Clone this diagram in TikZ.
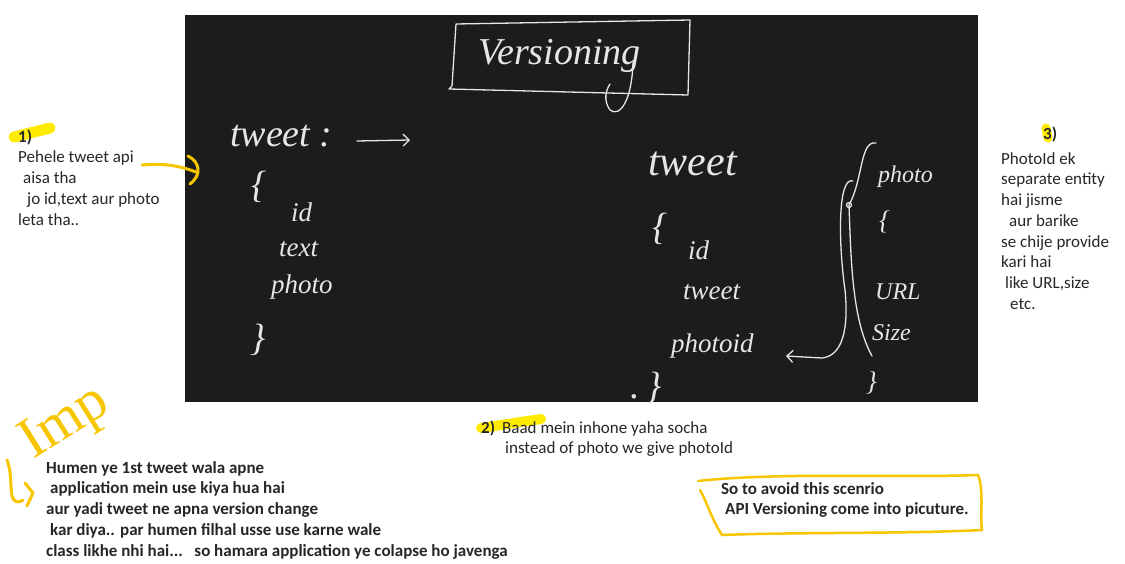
\documentclass[tikz,border=0pt]{standalone}
\usepackage{fontspec}
\setmainfont{Carlito}
\newfontfamily\chalkfont{Liberation Serif}
\usetikzlibrary{arrows.meta, positioning}

\definecolor{board}{HTML}{1C1C1C}
\definecolor{chalkwhite}{HTML}{E6E6E6}
\definecolor{marker}{HTML}{F7C600}
\definecolor{hilite}{HTML}{FFEB00}

\tikzset{
  note/.style={font=\fontsize{17}{20.8}\selectfont, align=left, anchor=base west, inner sep=0pt, text=black!85},
  boldnote/.style={note, font=\fontsize{17}{20.8}\selectfont\bfseries},
  chalk/.style={draw=chalkwhite, line width=1.3pt, line cap=round, line join=round},
  chalktext/.style={text=chalkwhite, anchor=base west, inner sep=0pt, font=\chalkfont\itshape\fontsize{38}{40}\selectfont},
  smallchalk/.style={chalktext, font=\chalkfont\itshape\fontsize{27}{30}\selectfont},
  tinychalk/.style={chalktext, font=\chalkfont\itshape\fontsize{24}{26}\selectfont},
  pen/.style={draw=marker, line width=3pt, line cap=round, line join=round},
  highlight/.style={draw=hilite, line width=11pt, line cap=round}
}

\begin{document}
\begin{tikzpicture}[x=1pt, y=-1pt, >={Straight Barb[length=6pt, width=12pt]}]
    \useasboundingbox (0,0) rectangle (1125,564);
    \fill[white] (0,0) rectangle (1125,564);

    % Board
    \fill[board] (185,15) rectangle (978,402);
    \begin{scope}
    \clip (185,15) rectangle (978,402);

    % Title
    \draw[chalk] (456,24) -- (690,20) -- (688,95) -- (449,89) -- (452,86) -- cycle;
    \node[chalktext] (title) at (478,65) {Versioning};
    \draw[chalk] (633,62) .. controls (632,100) and (620,118) .. (610,110) .. controls (603,100) and (606,90) .. (610,84);

    % Old tweet
    \node[chalktext] (oldtweet) at (230,147) {tweet :};
    \coordinate (oldtail) at (357,141);
    \coordinate (oldtip) at (410,140);
    \draw[chalk, ->] (oldtail) -- (oldtip);
    \node[chalktext] (oldopen) at (251,198) {\{};
    \node[smallchalk] (oldid) at (291,222) {id};
    \node[smallchalk] (oldtext) at (279,257) {text};
    \node[smallchalk] (oldphoto) at (271,294) {photo};
    \node[chalktext] (oldclose) at (250,350) {\}};

    % New tweet
    \node[chalktext, font=\chalkfont\itshape\fontsize{42}{44}\selectfont] (newtweet) at (648,176) {tweet};
    \node[chalktext] (newopen) at (652,240) {\{};
    \node[smallchalk] (newid) at (688,260) {id};
    \node[smallchalk] (newtext) at (683,300) {tweet};
    \node[smallchalk] (photoid) at (671,352) {photoid};
    \node[chalktext] (newclose) at (630,398) {.\,\}};

    % Photo entity
    \node[tinychalk] (photo) at (878,183) {photo};
    \node[smallchalk] (photoopen) at (879,230) {\{};
    \node[tinychalk] (url) at (875,300) {URL};
    \node[tinychalk] (size) at (872,340) {Size};
    \node[smallchalk] (photoclose) at (866,390) {\}};
    \coordinate (loop) at (849,205);
    \coordinate (pidtip) at (786,356);
    \draw[chalk] (876,143) .. controls (860,140) and (863,180) .. (loop);
    \draw[chalk] (loop) circle (2.5);
    \draw[chalk, ->] (853,181) .. controls (838,176) and (838,240) .. (845,290) .. controls (849,330) and (842,356) .. (822,358) -- (pidtip);
    \draw[chalk] (loop) .. controls (851,260) and (852,320) .. (872,356);
    \end{scope}

    % Note 1
    \draw[highlight] (14,137) -- (50,128);
    \node[boldnote] (one) at (18,143) {1)};
    \node[note] (pehele) at (18,225.4) {Pehele tweet api\\ \hspace*{5pt}aisa tha\\ \hspace*{9pt}jo id,text aur photo\\leta tha..};
    \draw[pen] (142,165) .. controls (165,163) and (180,166) .. (196,172);
    \draw[pen] (188,156) .. controls (200,162) and (202,175) .. (190,184);

    % Note 2
    \draw[highlight, line width=10pt] (481,428) -- (541,419);
    \node[boldnote] (two) at (481,433) {2)};
    \node[note] (baad) at (502,453.8) {Baad mein inhone yaha socha\\ \hspace*{3pt}instead of photo we give photoId};

    % Note 3
    \draw[highlight, line width=9pt] (1046,128) -- (1048,138);
    \node[boldnote] (three) at (1043,140) {3)};
    \node[note] (entity) at (1001,309.6) {PhotoId ek\\separate entity\\hai jisme\\ \hspace*{8pt}aur barike\\se chije provide\\kari hai\\ \hspace*{4pt}like URL,size\\ \hspace*{9pt}etc.};

    % Imp
    \node[text=marker, inner sep=0pt, rotate=32, font=\chalkfont\fontsize{58}{60}\selectfont] (imp) at (66,424) {Imp};
    \draw[pen] (7,460) .. controls (13,475) and (9,495) .. (14,500) .. controls (17,503) and (20,502) .. (23,500);
    \draw[pen] (25,483) -- (33,493) -- (27,506);
    \node[boldnote] (humen) at (46,556.2) {Humen ye 1st tweet wala apne\\ \hspace*{4pt}application mein use kiya hua hai\\aur yadi tweet ne apna version change\\ \hspace*{4pt}kar diya.. par humen filhal usse use karne wale\\class likhe nhi hai...\ \ \ so hamara application ye colapse ho javenga};

    % Conclusion
    \draw[pen, line width=2.5pt] (698,481) .. controls (780,472) and (900,478) .. (978,475) .. controls (984,490) and (980,515) .. (982,530) .. controls (900,534) and (800,532) .. (722,535) .. controls (712,520) and (706,500) .. (700,490);
    \node[boldnote] (avoid) at (721,514.8) {So to avoid this scenrio\\ \hspace*{4pt}API Versioning come into picuture.};
\end{tikzpicture}
\end{document}
